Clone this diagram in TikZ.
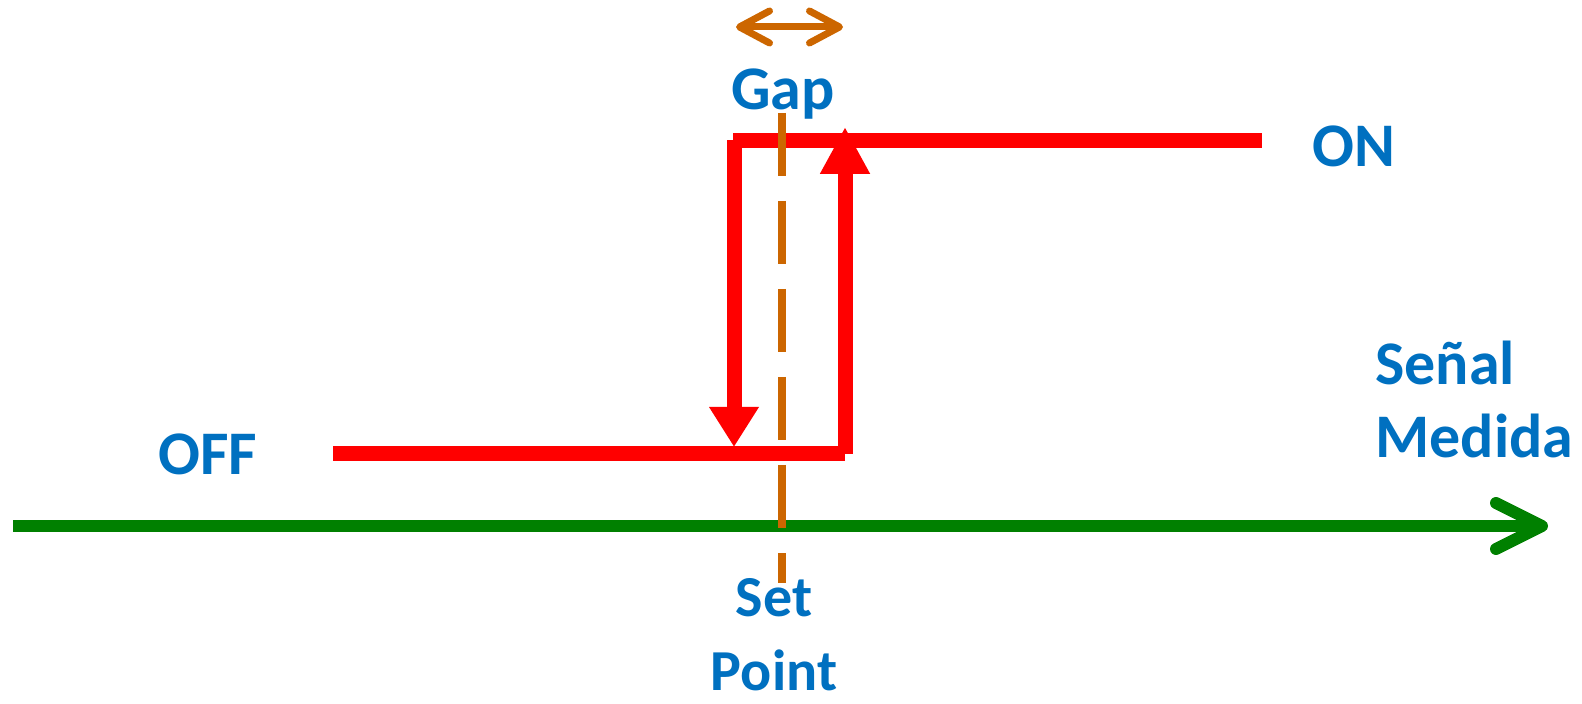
\documentclass[tikz,border=0pt]{standalone}
\usepackage{fontspec}
\setmainfont{Carlito}
\usetikzlibrary{arrows.meta}
\definecolor{lblue}{RGB}{0,112,192}
\definecolor{sred}{RGB}{255,0,0}
\definecolor{agreen}{RGB}{0,128,0}
\definecolor{sporange}{RGB}{204,102,0}

\begin{document}
\begin{tikzpicture}[x=0.5pt,y=-0.5pt,
  t/.style={font=\bfseries\fontsize{31}{36.5}\selectfont,text=lblue,inner sep=0pt},
  r/.style={draw=sred,line width=7.5pt}]
\useasboundingbox (0,0) rectangle (1582,704);
% signal axis
\coordinate (ax0) at (13,526);
\coordinate (ax1) at (1548,526);
\draw[agreen,line width=6pt,-{Straight Barb[round,length=23pt,width=23pt]}] (ax0) -- (ax1);
% hysteresis loop
\coordinate (off0) at (333,454);
\coordinate (off1) at (845,454);
\coordinate (on0) at (733,141);
\coordinate (on1) at (1262,141);
\coordinate (dn0) at (734,140);
\coordinate (dn1) at (734,447);
\coordinate (up1) at (845,127);
\draw[r] (off0) -- (off1);
\draw[r] (on0) -- (on1);
\draw[r,-{Triangle[length=20pt,width=23.5pt]}] (dn0) -- (dn1);
\draw[r,-{Triangle[length=23.5pt,width=23.5pt]}] (off1) -- (up1);
% set point and gap
\coordinate (sp0) at (782,113);
\coordinate (sp1) at (782,583);
\draw[sporange,line width=4pt,dash pattern=on 31.5pt off 12.5pt] (sp0) -- (sp1);
\coordinate (g0) at (736,27);
\coordinate (g1) at (843,27);
\draw[sporange,line width=3.5pt,{Straight Barb[round,length=15pt,width=16pt]}-{Straight Barb[round,length=15pt,width=16pt]}] (g0) -- (g1);
% labels
\node[t,anchor=base] (gap) at (783,110) {Gap};
\node[t,anchor=base] (off) at (208,475) {OFF};
\node[t,anchor=base] (on) at (1354,167) {ON};
\node[t,anchor=base west,align=left] (sig) at (1375,458) {Señal\\Medida};
\node[t,font=\bfseries\fontsize{29}{37}\selectfont,anchor=base,align=center] (sp) at (774,690) {Set\\Point};
\end{tikzpicture}
\end{document}
